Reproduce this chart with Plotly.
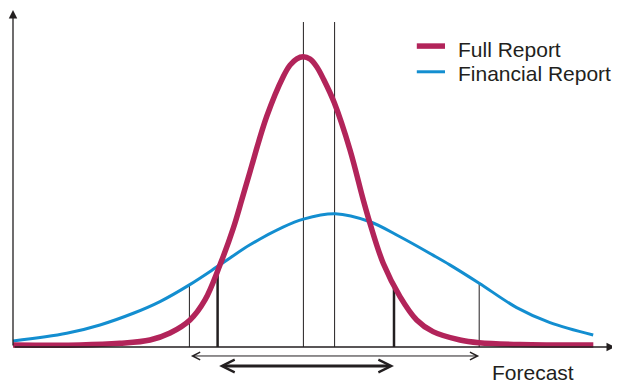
import plotly.graph_objects as go

# forecast axis in arbitrary units, density in arbitrary units
full_x = [0, 11.17, 17.83, 22.83, 26.17, 29.5, 32.0, 34.5, 36.72, 38.12, 39.5, 42.28, 45.05, 46.17,
          47.3, 48.38, 49.5, 50.62, 51.8, 53.55, 56.17, 58.38, 59.5, 61.72, 64.5, 67.28, 70.0,
          74.5, 77.67, 84.5, 96.72]
full_y = [0.6, 0.6, 1.1, 2.1, 4.2, 8.1, 14.1, 24.6, 35.6, 44.0, 52.5, 69.0, 81.0, 84.4,
          86.3, 86.9, 86.2, 83.9, 80.0, 73.1, 59.0, 44.0, 37.0, 25.0, 15.1, 8.1, 4.6,
          2.1, 1.3, 0.75, 0.6]

fin_x = [0, 8.95, 14.5, 20.05, 24.5, 29.4, 34.5, 39.5, 45.0, 48.4, 53.7, 59.5, 64.5,
         70.0, 72.8, 77.7, 83.95, 89.5, 96.7]
fin_y = [1.8, 4.1, 6.6, 10.1, 13.6, 18.6, 24.6, 30.6, 35.9, 38.3, 39.9, 37.5, 33.0,
         27.5, 24.6, 19.1, 11.8, 7.3, 3.6]

# peaks (means) of the two curves
mean_x = [48.4, 53.6]
mean_top = 97.3
# interval bounds: financial report (thin), full report (thick)
fin_lo, fin_hi = 29.4, 77.7
fin_lo_y, fin_hi_y = 18.6, 19.1
full_lo, full_hi = 34.1, 63.5
full_lo_y, full_hi_y = 21.6, 18.6

RED = "#b2245a"
BLUE = "#138ed0"
INK = "#231f20"

fig = go.Figure()

fig.add_trace(go.Scatter(x=fin_x, y=fin_y, mode="lines", name="Financial Report",
                         line=dict(color=BLUE, width=3, shape="spline", smoothing=1)))
fig.add_trace(go.Scatter(x=full_x, y=full_y, mode="lines", name="Full Report",
                         line=dict(color=RED, width=5.5, shape="spline", smoothing=1)))

shapes = []
for mx in mean_x:
    shapes.append(dict(type="line", x0=mx, x1=mx, y0=0, y1=mean_top,
                       line=dict(color=INK, width=1), layer="below"))
for xx, yy in [(fin_lo, fin_lo_y), (fin_hi, fin_hi_y)]:
    shapes.append(dict(type="line", x0=xx, x1=xx, y0=0, y1=yy,
                       line=dict(color=INK, width=1), layer="below"))
for xx, yy in [(full_lo, full_lo_y), (full_hi, full_hi_y)]:
    shapes.append(dict(type="line", x0=xx, x1=xx, y0=0, y1=yy,
                       line=dict(color=INK, width=2.5), layer="below"))

# legend drawn by hand
shapes.append(dict(type="line", x0=67.3, x1=72.0, y0=90.1, y1=90.1, line=dict(color=RED, width=5.5)))
shapes.append(dict(type="line", x0=67.3, x1=72.0, y0=82.4, y1=82.4, line=dict(color=BLUE, width=3)))

annotations = [
    # axes with arrows
    dict(x=0, y=100.9, ax=0, ay=0, xref="x", yref="y", axref="x", ayref="y", text="",
         showarrow=True, arrowhead=2, arrowsize=1.3, arrowwidth=1.3, arrowcolor=INK, standoff=0),
    dict(x=100.33, y=0, ax=0, ay=0, xref="x", yref="y", axref="x", ayref="y", text="",
         showarrow=True, arrowhead=2, arrowsize=1.3, arrowwidth=1.3, arrowcolor=INK, standoff=0),
    # interval arrows
    dict(x=fin_hi, y=-2.69, ax=fin_lo, ay=-2.69, xref="x", yref="y", axref="x", ayref="y", text="",
         showarrow=True, arrowside="end+start", arrowhead=5, startarrowhead=5,
         arrowsize=1.5, startarrowsize=1.5, arrowwidth=1, arrowcolor=INK, standoff=0, startstandoff=0),
    dict(x=full_hi, y=-5.69, ax=full_lo, ay=-5.69, xref="x", yref="y", axref="x", ayref="y", text="",
         showarrow=True, arrowside="end+start", arrowhead=5, startarrowhead=5,
         arrowsize=0.9, startarrowsize=0.9, arrowwidth=2.8, arrowcolor=INK, standoff=0, startstandoff=0),
    dict(x=86.6, y=-7.5, xref="x", yref="y", text="Forecast", showarrow=False,
         font=dict(size=21, color=INK), xanchor="center", yanchor="middle", borderpad=0),
    dict(x=73.8, y=89.2, xref="x", yref="y", text="Full Report", showarrow=False,
         font=dict(size=21, color=INK), xanchor="left", yanchor="middle"),
    dict(x=73.8, y=81.8, xref="x", yref="y", text="Financial Report", showarrow=False,
         font=dict(size=21, color=INK), xanchor="left", yanchor="middle"),
]

# the page puts the figure 8 px in from the top-left corner, so the figure is 8 px
# smaller and the axis ranges are set to match the reference pixel grid
fig.update_layout(
    width=612, height=373,
    margin=dict(l=0, r=0, t=0, b=0, pad=0),
    paper_bgcolor="white", plot_bgcolor="white",
    showlegend=False,
    font=dict(family="Liberation Sans, Arial, sans-serif"),
    xaxis=dict(range=[-0.8333, 101.1667], visible=False, fixedrange=True),
    yaxis=dict(range=[-10.18, 101.497], visible=False, fixedrange=True),
    shapes=shapes,
    annotations=annotations,
)

fig.write_html("out.html")
